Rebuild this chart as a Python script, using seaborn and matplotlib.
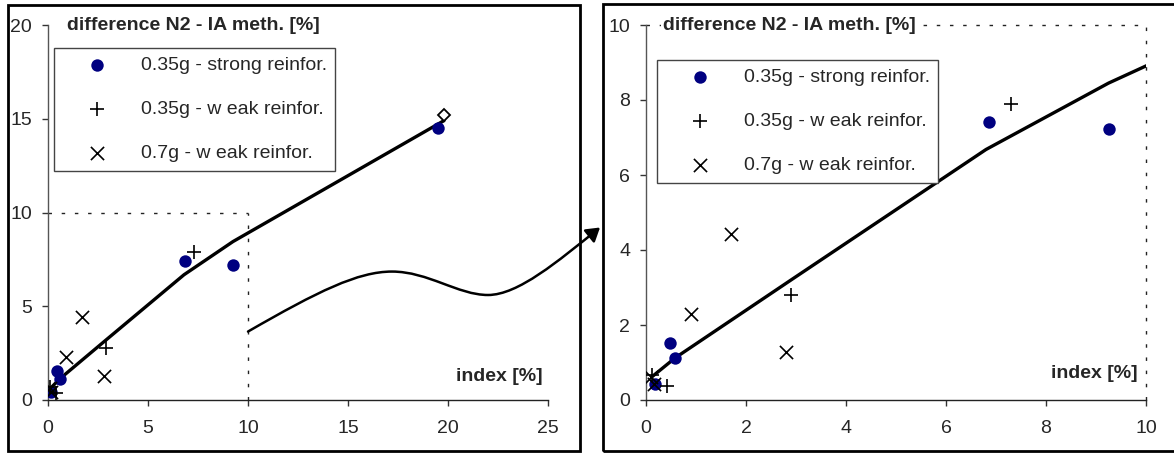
import numpy as np
import matplotlib
matplotlib.use("Agg")
import matplotlib.pyplot as plt
from matplotlib.patches import Rectangle, FancyArrowPatch
from matplotlib.path import Path
import seaborn as sns

# data (index [%] vs difference [%])
strong_035_x = [0.17, 0.47, 0.58, 6.85, 9.25, 19.5]
strong_035_y = [0.42, 1.53, 1.12, 7.42, 7.22, 14.5]

weak_035_x = [0.12, 0.42, 2.9, 7.3]
weak_035_y = [0.68, 0.38, 2.8, 7.9]

weak_07_x = [0.1, 0.15, 0.9, 1.7, 2.8]
weak_07_y = [0.62, 0.42, 2.3, 4.42, 1.28]

trend_x = [0.12, 0.58, 2.9, 6.8, 9.25, 19.8]
trend_y = [0.62, 1.12, 3.2, 6.68, 8.45, 14.9]

end_x = [19.8]
end_y = [15.2]

labels = ['0.35g - strong reinfor.', '0.35g - w eak reinfor.', '0.7g - w eak reinfor.']

sns.set_style('white')
plt.rcParams['font.family'] = ['Liberation Sans', 'DejaVu Sans']

fig = plt.figure(figsize=(11.74, 4.53), dpi=100)
W, H = 1174.0, 453.0

ax_left = fig.add_axes([48 / W, 53 / H, 500 / W, 375 / H])
ax_right = fig.add_axes([646 / W, 53 / H, 500 / W, 375 / H])


def draw_panel(ax, xmax, ymax, step_x, step_y, legend_xy, title_x, index_x, index_y):
    sns.lineplot(x=trend_x, y=trend_y, ax=ax, color='black', linewidth=2.4,
                 sort=False, estimator=None, zorder=3)
    sns.scatterplot(x=strong_035_x, y=strong_035_y, ax=ax, color='#000080',
                    marker='o', s=80, edgecolor='#000080', linewidth=0,
                    label=labels[0], zorder=4)
    sns.scatterplot(x=weak_035_x, y=weak_035_y, ax=ax, color='black',
                    marker='+', s=110, linewidth=1.2, label=labels[1], zorder=4)
    sns.scatterplot(x=weak_07_x, y=weak_07_y, ax=ax, color='black',
                    marker='x', s=90, linewidth=1.2, label=labels[2], zorder=4)
    if xmax > 20:
        ax.plot(end_x, end_y, marker='D', markersize=6, markerfacecolor='white',
                markeredgecolor='black', markeredgewidth=1.3, linestyle='none', zorder=5)

    # dashed zoom box at 10 x 10
    ax.plot([0, 10], [10, 10], color='#222222', linestyle=(0, (2.5, 7)), linewidth=1.0,
            zorder=1, clip_on=False)
    ax.plot([10, 10], [0, 10], color='#222222', linestyle=(0, (2.5, 7)), linewidth=1.0,
            zorder=1, clip_on=False)

    ax.set_xlim(0, xmax)
    ax.set_ylim(0, ymax)
    ax.set_xticks(np.arange(0, xmax + 0.1, step_x))
    ax.set_yticks(np.arange(0, ymax + 0.1, step_y))
    ax.set_xlabel('')
    ax.set_ylabel('')
    for side in ['top', 'right']:
        ax.spines[side].set_visible(False)
    ax.spines['left'].set_color('#555555')
    ax.spines['bottom'].set_color('#222222')
    ax.spines['left'].set_linewidth(1.0)
    ax.spines['bottom'].set_linewidth(1.0)
    ax.tick_params(axis='both', direction='out', length=4.5, width=1.0,
                   color='#333333', labelsize=14, bottom=True, left=True)
    ax.tick_params(axis='x', pad=10)
    ax.tick_params(axis='y', pad=7)
    ax.patch.set_alpha(0)

    ax.text(title_x, 1.0, 'difference N2 - IA meth. [%]', transform=ax.transAxes,
            fontsize=14, fontweight='bold', ha='left', va='center',
            bbox=dict(facecolor='white', edgecolor='none', pad=1.5), zorder=6)
    ax.text(index_x, index_y, 'index [%]', transform=ax.transAxes,
            fontsize=14, fontweight='bold', ha='right', va='center', zorder=6)

    leg = ax.legend(loc='upper left', bbox_to_anchor=legend_xy,
                    bbox_transform=fig.transFigure, fontsize=14, frameon=True,
                    fancybox=False, edgecolor='#444444', framealpha=1,
                    borderpad=0.45, borderaxespad=0, handlelength=3.5,
                    handletextpad=0.5, labelspacing=1.35)
    leg.get_frame().set_linewidth(1.0)
    leg.set_zorder(7)


draw_panel(ax_left, 25, 20, 5, 5, (54 / W, 1 - 48 / H), 0.038, 0.99, 0.062)
draw_panel(ax_right, 10, 10, 2, 2, (657 / W, 1 - 60 / H), 0.034, 0.984, 0.072)

# chart-area frames
fig.patches.append(Rectangle((8 / W, 2 / H), 572 / W, 446 / H, transform=fig.transFigure,
                             fill=False, edgecolor='black', linewidth=2.0))
fig.patches.append(Rectangle((603 / W, 2 / H), 600 / W, 447 / H, transform=fig.transFigure,
                             fill=False, edgecolor='black', linewidth=2.0))

# wavy arrow from the dashed box to the zoomed panel
arrow_pts = [(10, 3.65), (13.5, 5.8), (15.5, 6.85), (17.2, 6.85),
             (19.0, 6.85), (20.5, 5.6), (22.0, 5.6),
             (23.5, 5.6), (25.5, 7.4), (27.6, 9.2)]
codes = [Path.MOVETO] + [Path.CURVE4] * 9
arrow = FancyArrowPatch(path=Path(arrow_pts, codes), arrowstyle='-|>,head_length=8,head_width=5',
                        color='black', linewidth=1.8, transform=ax_left.transData,
                        clip_on=False, zorder=8)
ax_left.add_patch(arrow)

fig.savefig('out.png', dpi=100)
